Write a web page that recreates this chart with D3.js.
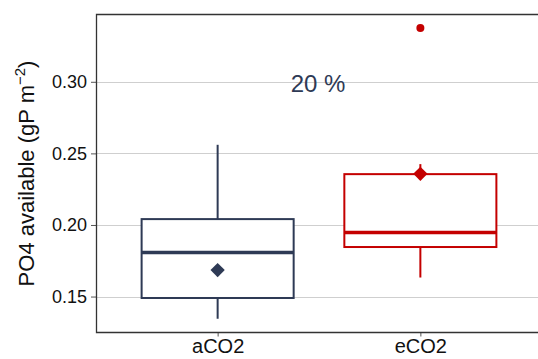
<!DOCTYPE html>
<html>
<head>
  <meta charset="utf-8" />
  <title>PO4 boxplot</title>
  <style>
    body { margin: 0; background: #fff; }
    svg { display: block; font-family: Arial, "Liberation Sans", sans-serif; }
    .grid line { stroke: #cfcfcf; stroke-width: 1; }
  </style>
  <script src="https://cdnjs.cloudflare.com/ajax/libs/d3/7.8.5/d3.min.js"></script>
</head>
<body>
  <div id="chart"></div>
  <script>
    // data
    var groups = ['aCO2', 'eCO2'];
    var colors = ['#2e3a55', '#c40000'];
    var whiskerLow = [0.1345, 0.1633];
    var q1 = [0.1490, 0.1846];
    var median = [0.1808, 0.1948];
    var q3 = [0.2041, 0.2355];
    var whiskerHigh = [0.2560, 0.2425];
    var means = [0.1685, 0.2357];
    var outliers = [[], [0.3375]];
    var yTicks = [0.15, 0.20, 0.25, 0.30];
    var annotation = '20 %';

    var W = 538, H = 359;
    var pLeft = 96, pTop = 14.5, pRight = 542, pBottom = 332.5;

    var svg = d3.select('#chart').append('svg')
      .attr('width', W)
      .attr('height', H);

    var x = d3.scaleLinear().domain([0.4, 2.6]).range([pLeft, pRight]);
    var y = d3.scaleLinear().domain([0.1249, 0.347]).range([pBottom, pTop]);
    var boxW = x(1.375) - x(0.625);

    // grid
    svg.append('g').attr('class', 'grid')
      .selectAll('line')
      .data(yTicks)
      .enter().append('line')
      .attr('x1', pLeft).attr('x2', W)
      .attr('y1', d => Math.round(y(d)) + 0.5)
      .attr('y2', d => Math.round(y(d)) + 0.5);

    // y axis
    var yAxis = svg.append('g')
      .attr('transform', 'translate(' + pLeft + ',0)')
      .call(d3.axisLeft(y).tickValues(yTicks).tickFormat(d3.format('.2f')).tickSize(5).tickPadding(4));
    yAxis.select('.domain').remove();
    yAxis.selectAll('.tick line').attr('stroke', '#555');
    yAxis.selectAll('text').attr('font-size', 18).attr('fill', '#111');

    // x axis
    var xAxis = svg.append('g')
      .attr('transform', 'translate(0,' + pBottom + ')')
      .call(d3.axisBottom(x).tickValues([1, 2]).tickFormat((d, i) => groups[i]).tickSize(4).tickPadding(2));
    xAxis.select('.domain').remove();
    xAxis.selectAll('.tick line').attr('stroke', '#555');
    xAxis.selectAll('text').attr('font-size', 20).attr('fill', '#111');

    // panel border
    svg.append('path')
      .attr('d', 'M' + W + ',' + pTop + 'H' + (pLeft + 0.5) + 'V' + pBottom + 'H' + W)
      .attr('fill', 'none')
      .attr('stroke', '#333')
      .attr('stroke-width', 1.3);

    var g = svg.selectAll('.box')
      .data(groups)
      .enter().append('g')
      .attr('class', 'box');

    // whiskers
    g.append('line')
      .attr('x1', (d, i) => x(i + 1)).attr('x2', (d, i) => x(i + 1))
      .attr('y1', (d, i) => y(q3[i])).attr('y2', (d, i) => y(whiskerHigh[i]))
      .attr('stroke', (d, i) => colors[i]).attr('stroke-width', 2);
    g.append('line')
      .attr('x1', (d, i) => x(i + 1)).attr('x2', (d, i) => x(i + 1))
      .attr('y1', (d, i) => y(q1[i])).attr('y2', (d, i) => y(whiskerLow[i]))
      .attr('stroke', (d, i) => colors[i]).attr('stroke-width', 2);

    // box
    g.append('rect')
      .attr('x', (d, i) => x(i + 1) - boxW / 2)
      .attr('width', boxW)
      .attr('y', (d, i) => y(q3[i]))
      .attr('height', (d, i) => y(q1[i]) - y(q3[i]))
      .attr('fill', 'white')
      .attr('stroke', (d, i) => colors[i]).attr('stroke-width', 2);

    // median
    g.append('line')
      .attr('x1', (d, i) => x(i + 1) - boxW / 2).attr('x2', (d, i) => x(i + 1) + boxW / 2)
      .attr('y1', (d, i) => y(median[i])).attr('y2', (d, i) => y(median[i]))
      .attr('stroke', (d, i) => colors[i]).attr('stroke-width', 3.5);

    // mean diamond
    g.append('path')
      .attr('d', d3.symbol(d3.symbolDiamond2, 130))
      .attr('transform', (d, i) => 'translate(' + x(i + 1) + ',' + y(means[i]) + ')')
      .attr('fill', (d, i) => colors[i]);

    // outliers
    g.each(function (d, i) {
      d3.select(this).selectAll('circle')
        .data(outliers[i])
        .enter().append('circle')
        .attr('cx', x(i + 1))
        .attr('cy', v => y(v))
        .attr('r', 4)
        .attr('fill', colors[i]);
    });

    // annotation
    svg.append('text')
      .attr('x', 318).attr('y', 92)
      .attr('text-anchor', 'middle')
      .attr('font-size', 24)
      .attr('fill', '#2e3a55')
      .text(annotation);

    // y label
    var yl = svg.append('text')
      .attr('transform', 'translate(34,' + ((pTop + pBottom) / 2) + ') rotate(-90)')
      .attr('text-anchor', 'middle')
      .attr('font-size', 22)
      .attr('fill', '#111');
    yl.append('tspan').text('PO4 available (gP m');
    yl.append('tspan').attr('dy', -9).attr('font-size', 15).text('\u22122');
    yl.append('tspan').attr('dy', 9).text(')');
  </script>
</body>
</html>
